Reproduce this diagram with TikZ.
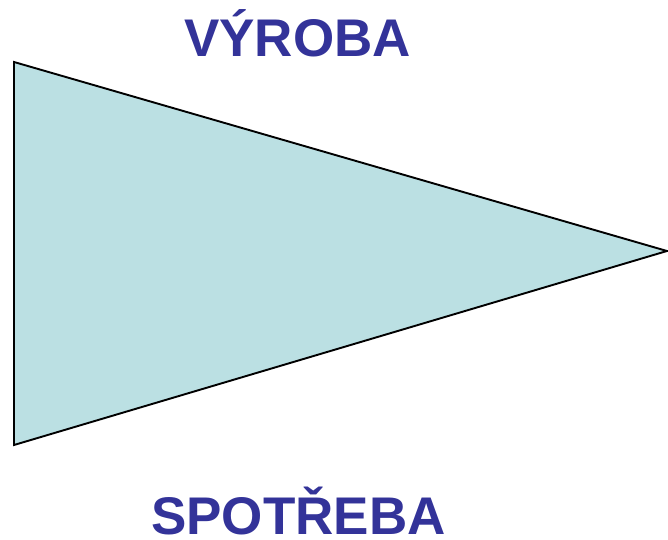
\documentclass[tikz,border=0pt]{standalone}
\usepackage{fontspec}
\setmainfont{Liberation Sans}
\definecolor{titleblue}{HTML}{333399}
\definecolor{trifill}{HTML}{BBE0E3}
\begin{document}
\begin{tikzpicture}[x=1pt,y=1pt,
  label text/.style={font=\fontsize{53}{53}\selectfont\bfseries, text=titleblue, inner sep=0pt, anchor=base},
  tri/.style={draw=black, line width=1.9pt, fill=trifill, line join=miter}]
\useasboundingbox (0,0) rectangle (668,539);
\coordinate (tl) at (14,477);
\coordinate (bl) at (14,94);
\coordinate (tip) at (667,288);
\draw[tri] (tl) -- (tip) -- (bl) -- cycle;
\node[label text] (top) at (297.5,482) {VÝROBA};
\node[label text] (bottom) at (298.5,4.5) {SPOTŘEBA};
\end{tikzpicture}
\end{document}
